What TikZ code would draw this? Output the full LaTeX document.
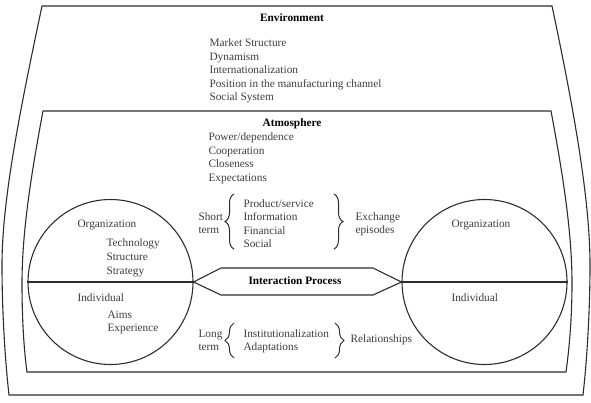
\documentclass[tikz,border=0pt]{standalone}
\usepackage{fontspec}
\setmainfont{Liberation Serif}
\usepackage{tikz}
\usetikzlibrary{decorations.pathreplacing}
\definecolor{inkgray}{RGB}{45,45,45}
\definecolor{textgray}{RGB}{60,60,60}

\begin{document}
\begin{tikzpicture}[x=1pt,y=-1pt,line width=1.1pt,draw=inkgray,
    lbl/.style={anchor=west,inner sep=0pt,text height=0.7em,text depth=0.2em,
      text=textgray,font=\fontsize{11.3}{13.5}\selectfont},
    ttl/.style={inner sep=0pt,text height=0.7em,text depth=0.2em,
      text=black,font=\fontsize{11.3}{13.5}\selectfont\bfseries},
    brc/.style={decorate,decoration={brace,amplitude=9pt},line width=1pt}]
      \useasboundingbox (0,0) rectangle (591,402);
      % outer frame: environment
      \draw (42,6) -- (552,6) .. controls (574,110) and (590,200) .. (590,265)
        .. controls (590,310) and (587,360) .. (583,395) -- (9,395)
        .. controls (5,360) and (2,310) .. (2,265)
        .. controls (2,200) and (20,110) .. (42,6) -- cycle;
      % inner frame: atmosphere
      \draw (43,111) -- (551,111) .. controls (562,170) and (572,230) .. (572,283)
        .. controls (572,320) and (569,350) .. (566,372) -- (27,372)
        .. controls (24,350) and (22,320) .. (22,283)
        .. controls (22,230) and (32,170) .. (43,111) -- cycle;
      \node[ttl] (env) at (292,19) {Environment};
      \foreach \y/\i/\txt in {44/1/Market Structure,57.5/2/Dynamism,71/3/Internationalization,
          84.5/4/Position in the manufacturing channel,98/5/Social System} {
        \node[lbl] (envl\i) at (209,\y) {\txt};
      }
      \node[ttl] (atm) at (292,124) {Atmosphere};
      \foreach \y/\i/\txt in {138/1/{Power/dependence},151.7/2/Cooperation,165.4/3/Closeness,179/4/Expectations} {
        \node[lbl] (atml\i) at (208,\y) {\txt};
      }
      % the two parties
      \node[circle,draw,minimum size=165pt,inner sep=0pt] (orgL) at (110.5,282) {};
      \node[circle,draw,minimum size=165pt,inner sep=0pt] (orgR) at (484.5,282) {};
      \draw (orgL.west) -- (orgL.east);
      \draw (orgR.west) -- (orgR.east);
      \node[lbl] (orgLt) at (77,225) {Organization};
      \foreach \y/\i/\txt in {244/1/Technology,258/2/Structure,272/3/Strategy} {
        \node[lbl] (orgLl\i) at (106,\y) {\txt};
      }
      \node[lbl] (indLt) at (77,299) {Individual};
      \node[lbl] (indLl1) at (107,316) {Aims};
      \node[lbl] (indLl2) at (107,329) {Experience};
      \node[lbl] (orgRt) at (451,225) {Organization};
      \node[lbl] (indRt) at (451,299) {Individual};
      % interaction process
      \coordinate (hxA) at (221,268);
      \coordinate (hxB) at (373,268);
      \coordinate (hxC) at (373,295);
      \coordinate (hxD) at (221,295);
      \draw (orgL.east) -- (hxA) -- (hxB) -- (orgR.west) -- (hxC) -- (hxD) -- cycle;
      \node[ttl] (ip) at (295,282) {Interaction Process};
      % short term: exchange episodes
      \node[lbl] (st1) at (198,218) {Short};
      \node[lbl] (st2) at (198,231) {term};
      \foreach \y/\i/\txt in {205/1/{Product/service},218/2/Information,232/3/Financial,245/4/Social} {
        \node[lbl] (ex\i) at (243,\y) {\txt};
      }
      \draw[brc] (234,249) -- (234,194);
      \draw[brc] (334,194) -- (334,249);
      \node[lbl] (eps1) at (355,218) {Exchange};
      \node[lbl] (eps2) at (355,231) {episodes};
      % long term: relationships
      \node[lbl] (lt1) at (198,335) {Long};
      \node[lbl] (lt2) at (198,348) {term};
      \node[lbl] (rl1) at (243,335) {Institutionalization};
      \node[lbl] (rl2) at (243,348) {Adaptations};
      \draw[brc] (234,358) -- (234,323);
      \draw[brc] (335,323) -- (335,358);
      \node[lbl] (rel) at (350,340) {Relationships};
    \end{tikzpicture}
\end{document}
